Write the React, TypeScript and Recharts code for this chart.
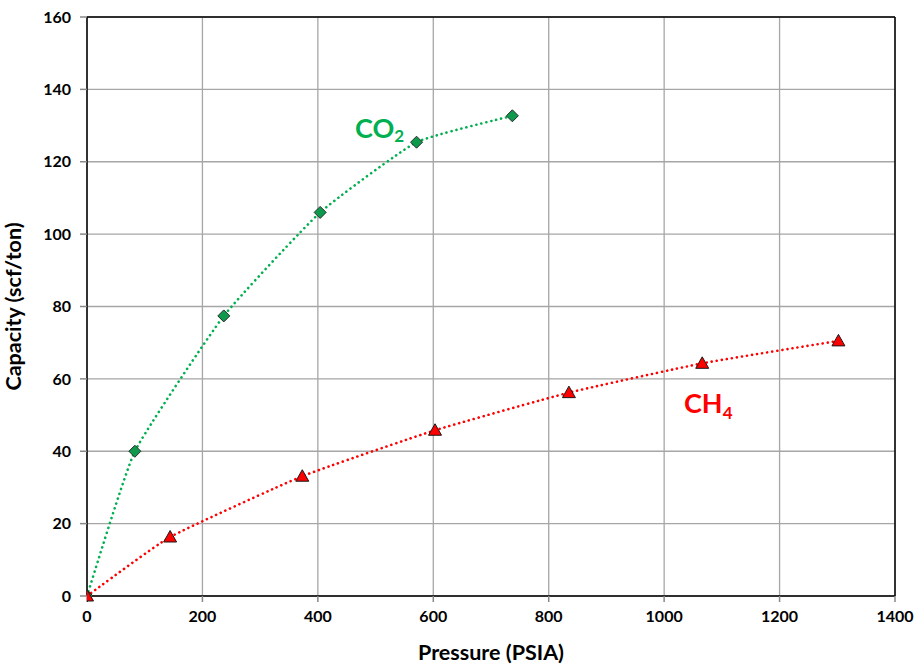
import React from "react";
import {
  ComposedChart,
  Line,
  XAxis,
  YAxis,
  CartesianGrid,
  ReferenceLine,
  Label,
} from "recharts";

const pressureCO2 = [0, 83, 237, 404, 571, 737];
const capacityCO2 = [0, 40, 77.4, 106, 125.4, 132.7];
const pressureCH4 = [0, 144, 373, 603, 835, 1066, 1302];
const capacityCH4 = [0, 16.3, 33.1, 45.8, 56.2, 64.3, 70.5];
const xTicks = [0, 200, 400, 600, 800, 1000, 1200, 1400];
const yTicks = [0, 20, 40, 60, 80, 100, 120, 140, 160];

const co2Data = pressureCO2.map((p, i) => ({ x: p, y: capacityCO2[i] }));
const ch4Data = pressureCH4.map((p, i) => ({ x: p, y: capacityCH4[i] }));

const FONT = "Lato, 'Open Sans', sans-serif";

// lightly smoothed line (Catmull-Rom style Bezier with reduced tension)
const lightSmooth = (context: any) => {
  let pts: [number, number][] = [];
  const k = 1 / 14;
  return {
    areaStart() {},
    areaEnd() {},
    lineStart() {
      pts = [];
    },
    point(x: number, y: number) {
      pts.push([+x, +y]);
    },
    lineEnd() {
      if (!pts.length) return;
      context.moveTo(pts[0][0], pts[0][1]);
      for (let i = 0; i < pts.length - 1; i++) {
        const p0 = pts[Math.max(0, i - 1)];
        const p1 = pts[i];
        const p2 = pts[i + 1];
        const p3 = pts[Math.min(pts.length - 1, i + 2)];
        const c1x = p1[0] + (p2[0] - p0[0]) * k;
        const c1y = p1[1] + (p2[1] - p0[1]) * k;
        const c2x = p2[0] - (p3[0] - p1[0]) * k;
        const c2y = p2[1] - (p3[1] - p1[1]) * k;
        context.bezierCurveTo(c1x, c1y, c2x, c2y, p2[0], p2[1]);
      }
    },
  };
};

const Diamond = (props: any) => {
  const { cx, cy, index } = props;
  if (cx == null || cy == null) return null;
  const r = 6;
  return (
    <path
      key={"d" + index}
      d={`M${cx},${cy - r} L${cx + r},${cy} L${cx},${cy + r} L${cx - r},${cy} Z`}
      fill="#0E9A4C"
      stroke="#2b2b2b"
      strokeWidth={1}
    />
  );
};

const Triangle = (props: any) => {
  const { cx, cy, index } = props;
  if (cx == null || cy == null) return null;
  return (
    <path
      key={"t" + index}
      d={`M${cx},${cy - 6.5} L${cx + 6.5},${cy + 5} L${cx - 6.5},${cy + 5} Z`}
      fill="#FF0000"
      stroke="#1a1a1a"
      strokeWidth={1}
    />
  );
};

export default function App() {
  return (
    <div style={{ position: "absolute", left: 0, top: 0, width: 918, height: 666, background: "#fff" }}>
      <ComposedChart
        width={918}
        height={666}
        margin={{ top: 17, right: 23, bottom: 0, left: 0 }}
      >
        <CartesianGrid stroke="#a6a6a6" strokeWidth={1.3} />
        <XAxis
          type="number"
          dataKey="x"
          domain={[0, 1400]}
          ticks={xTicks}
          allowDataOverflow
          height={70}
          stroke="#000"
          strokeWidth={1.5}
          tickSize={6}
          tickMargin={9}
          tickLine={{ stroke: "#888" }}
          tick={{ fill: "#000", fontFamily: FONT, fontWeight: 700, fontSize: 16 }}
        >
          <Label
            value="Pressure (PSIA)"
            position="insideBottom"
            offset={6}
            style={{ fill: "#000", fontFamily: FONT, fontWeight: 700, fontSize: 21.5 }}
          />
        </XAxis>
        <YAxis
          type="number"
          dataKey="y"
          domain={[0, 160]}
          ticks={yTicks}
          width={87}
          stroke="#000"
          strokeWidth={1.5}
          tickSize={7}
          tickMargin={9}
          tickLine={{ stroke: "#888" }}
          tick={{ fill: "#000", fontFamily: FONT, fontWeight: 700, fontSize: 16 }}
        >
          <Label
            value="Capacity (scf/ton)"
            angle={-90}
            position="insideLeft"
            offset={13}
            style={{ textAnchor: "middle", fill: "#000", fontFamily: FONT, fontWeight: 700, fontSize: 21.5 }}
          />
        </YAxis>
        <ReferenceLine y={160} stroke="#000" strokeWidth={1.5} />
        <ReferenceLine x={1400} stroke="#000" strokeWidth={1.5} />
        <Line
          data={co2Data}
          dataKey="y"
          type={lightSmooth as any}
          stroke="#00B050"
          strokeWidth={2.6}
          strokeDasharray="0.1 5"
          strokeLinecap="round"
          dot={<Diamond />}
          activeDot={false}
          isAnimationActive={false}
        />
        <Line
          data={ch4Data}
          dataKey="y"
          type={lightSmooth as any}
          stroke="#FF0000"
          strokeWidth={2.6}
          strokeDasharray="0.1 5"
          strokeLinecap="round"
          dot={<Triangle />}
          activeDot={false}
          isAnimationActive={false}
        />
        <text x={355} y={138} fill="#00B050" fontFamily={FONT} fontWeight={700} fontSize={27}>
          CO
          <tspan fontSize={17} dy={4}>2</tspan>
        </text>
        <text x={684} y={413} fill="#FF0000" fontFamily={FONT} fontWeight={700} fontSize={27}>
          CH
          <tspan fontSize={17} dy={6}>4</tspan>
        </text>
      </ComposedChart>
    </div>
  );
}
